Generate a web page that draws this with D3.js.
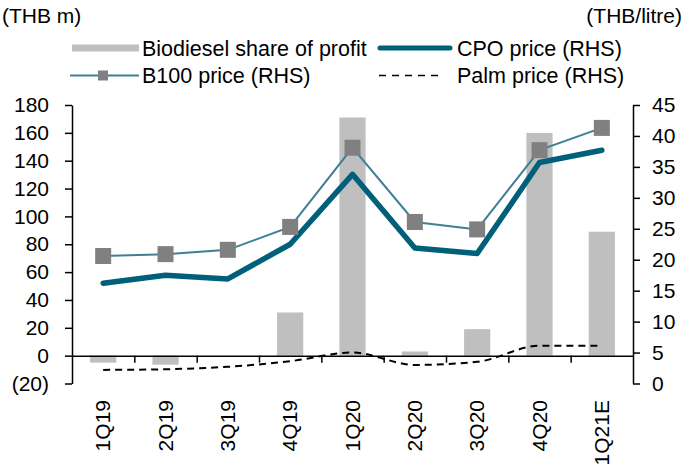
<!DOCTYPE html>
<html>
<head>
<meta charset="utf-8">
<script src="https://cdn.jsdelivr.net/npm/d3@7"></script>
<style>
  body { margin: 0; background: #fff; }
  svg { font-family: "Liberation Sans", Arial, sans-serif; }
  .axis text { font-size: 21px; fill: #000; }
  .axis path, .axis line { stroke: #000; stroke-width: 1.5; }
</style>
</head>
<body>
<svg width="683" height="468"></svg>
<script>
var quarters = ['1Q19', '2Q19', '3Q19', '4Q19', '1Q20', '2Q20', '3Q20', '4Q20', '1Q21E'];
var profitShare = [-5, -6.5, 0, 31, 171, 3, 19, 160, 89];
var cpoPrice = [16.2, 17.5, 16.9, 22.5, 33.8, 21.9, 21.0, 35.7, 37.7];
var b100Price = [20.6, 20.9, 21.6, 25.3, 38.1, 26.1, 24.9, 37.7, 41.3];
var palmPrice = [2.2, 2.3, 2.7, 3.6, 5.0, 3.0, 3.5, 6.1, 6.1];
var leftTicks = [-20, 0, 20, 40, 60, 80, 100, 120, 140, 160, 180];
var rightTicks = [0, 5, 10, 15, 20, 25, 30, 35, 40, 45];

var plotLeft = 72, plotRight = 633, plotTop = 105, plotBottom = 383.5;

var svg = d3.select('svg');

var x = d3.scaleBand()
    .domain(quarters)
    .range([plotLeft, plotRight])
    .paddingInner(0.58)
    .paddingOuter(0.29);

var yLeft = d3.scaleLinear().domain([-20, 180]).range([plotBottom, plotTop]);
var yRight = d3.scaleLinear().domain([0, 45]).range([plotBottom, plotTop]);

var cx = d => x(d) + x.bandwidth() / 2;

// bars
svg.append('g')
    .selectAll('rect')
    .data(quarters)
    .enter()
    .append('rect')
      .attr('x', d => x(d))
      .attr('width', x.bandwidth())
      .attr('y', (d, i) => yLeft(Math.max(0, profitShare[i])))
      .attr('height', (d, i) => Math.abs(yLeft(profitShare[i]) - yLeft(0)))
      .attr('fill', '#bfbfbf');

// axes
svg.append('g')
    .classed('axis', true)
    .attr('transform', 'translate(' + plotLeft + ',0)')
    .call(d3.axisLeft(yLeft).tickValues(leftTicks).tickSize(7).tickSizeOuter(0).tickPadding(16)
        .tickFormat(d => d < 0 ? '(' + Math.abs(d) + ')' : d));

svg.append('g')
    .classed('axis', true)
    .attr('transform', 'translate(' + plotRight + ',0)')
    .call(d3.axisRight(yRight).tickValues(rightTicks).tickSize(7).tickSizeOuter(0).tickPadding(12));

// category axis on the zero line
var boundary = d3.scaleLinear().domain([0, quarters.length]).range([plotLeft, plotRight]);
svg.append('g')
    .classed('axis', true)
    .attr('transform', 'translate(0,' + yLeft(0) + ')')
    .call(d3.axisBottom(boundary).tickValues(d3.range(1, quarters.length)).tickSize(7).tickSizeOuter(0).tickFormat(''))
    .select('.domain').attr('stroke-width', 2);

svg.append('g')
    .classed('axis', true)
    .selectAll('text')
    .data(quarters)
    .enter()
    .append('text')
      .attr('font-size', '20px')
      .attr('transform', d => 'translate(' + (cx(d) + 7) + ',400) rotate(-90)')
      .attr('text-anchor', 'end')
      .text(d => d);

// lines
var palmLine = d3.line()
    .x((d, i) => cx(quarters[i]))
    .y(d => yRight(d))
    .curve(d3.curveMonotoneX);

svg.append('path')
    .datum(palmPrice)
    .attr('d', palmLine)
    .attr('fill', 'none')
    .attr('stroke', '#000')
    .attr('stroke-width', 2)
    .attr('stroke-dasharray', '7,5');

var straight = d3.line()
    .x((d, i) => cx(quarters[i]))
    .y(d => yRight(d));

svg.append('path')
    .datum(b100Price)
    .attr('d', straight)
    .attr('fill', 'none')
    .attr('stroke', '#3f7f93')
    .attr('stroke-width', 2);

svg.append('path')
    .datum(cpoPrice)
    .attr('d', straight)
    .attr('fill', 'none')
    .attr('stroke', '#00607a')
    .attr('stroke-width', 5.5)
    .attr('stroke-linejoin', 'round')
    .attr('stroke-linecap', 'round');

svg.append('g')
    .selectAll('rect')
    .data(b100Price)
    .enter()
    .append('rect')
      .attr('x', (d, i) => cx(quarters[i]) - 8)
      .attr('y', d => yRight(d) - 8)
      .attr('width', 16)
      .attr('height', 16)
      .attr('fill', '#808080');

// axis titles
svg.append('text')
    .attr('x', 2)
    .attr('y', 23)
    .attr('font-size', '21px')
    .text('(THB m)');

svg.append('text')
    .attr('x', 682)
    .attr('y', 23)
    .attr('text-anchor', 'end')
    .attr('font-size', '21px')
    .text('(THB/litre)');

// legend
var legend = svg.append('g').attr('font-size', '21.5px');

legend.append('rect')
    .attr('x', 72).attr('y', 44.5).attr('width', 67).attr('height', 7)
    .attr('fill', '#bfbfbf');
legend.append('text').attr('x', 142).attr('y', 55.5).text('Biodiesel share of profit');

legend.append('line')
    .attr('x1', 380).attr('x2', 450).attr('y1', 48).attr('y2', 48)
    .attr('stroke', '#00607a').attr('stroke-width', 5).attr('stroke-linecap', 'round');
legend.append('text').attr('x', 457).attr('y', 55.5).text('CPO price (RHS)');

legend.append('line')
    .attr('x1', 70).attr('x2', 139).attr('y1', 75.5).attr('y2', 75.5)
    .attr('stroke', '#3f7f93').attr('stroke-width', 2);
legend.append('rect')
    .attr('x', 98).attr('y', 70.5).attr('width', 10).attr('height', 10)
    .attr('fill', '#808080');
legend.append('text').attr('x', 142).attr('y', 83).text('B100 price (RHS)');

legend.append('line')
    .attr('x1', 379).attr('x2', 440).attr('y1', 75.5).attr('y2', 75.5)
    .attr('stroke', '#000').attr('stroke-width', 1.5).attr('stroke-dasharray', '7,6');
legend.append('text').attr('x', 457).attr('y', 83).text('Palm price (RHS)');
</script>
</body>
</html>
